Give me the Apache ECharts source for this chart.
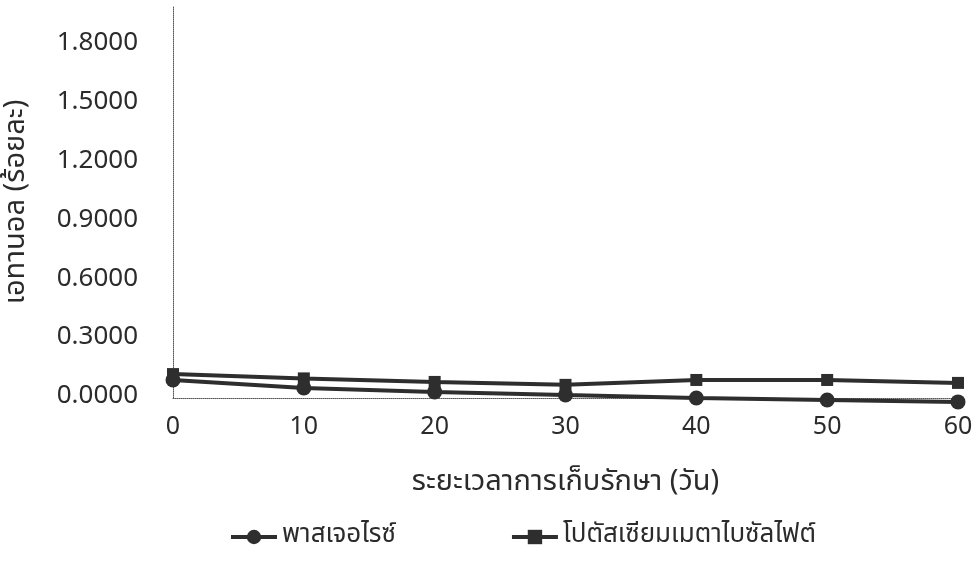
<!DOCTYPE html>
<html>
<head>
<meta charset="utf-8">
<script src="https://cdn.jsdelivr.net/npm/echarts@6/dist/echarts.min.js"></script>
<style>
  html, body { margin: 0; padding: 0; background: #fff; }
  #chart { width: 979px; height: 585px; }
</style>
</head>
<body>
<div id="chart"></div>
<script>
// Storage time (days)
const days = [0, 10, 20, 30, 40, 50, 60];
// Ethanol content (%) per treatment
const pasteurized = [0.092, 0.051, 0.031, 0.015, 0.000, -0.010, -0.020];
const metabisulfite = [0.122, 0.100, 0.082, 0.067, 0.092, 0.092, 0.077];
const seriesNames = ['พาสเจอไรซ์', 'โปตัสเซียมเมตาไบซัลไฟต์'];
const yTicks = [0, 0.3, 0.6, 0.9, 1.2, 1.5, 1.8];

const FONT = "Tahoma, 'Noto Sans Thai', 'Leelawadee UI', 'Noto Sans', 'DejaVu Sans', sans-serif";
const ink = '#2b2b2b';

const pairs = vals => days.map((d, i) => [d, vals[i]]);

const chart = echarts.init(document.getElementById('chart'), null, { renderer: 'canvas' });
chart.setOption({
  backgroundColor: '#ffffff',
  animation: false,
  textStyle: { fontFamily: FONT },
  grid: { left: 173, right: 21, top: 6, bottom: 187, outerBoundsMode: 'none', containLabel: false },
  legend: {
    bottom: 30,
    left: 224,
    itemWidth: 46,
    itemHeight: 18,
    itemGap: 114,
    lineStyle: { width: 4 },
    textStyle: { fontSize: 26, color: ink, fontFamily: FONT },
    data: seriesNames
  },
  xAxis: {
    type: 'value',
    min: 0,
    max: 60,
    interval: 10,
    name: 'ระยะเวลาการเก็บรักษา (วัน)',
    nameLocation: 'middle',
    nameGap: 72,
    nameTextStyle: { fontSize: 29, color: ink, fontFamily: FONT },
    axisLine: { show: true, lineStyle: { color: '#555', width: 1, type: 'dotted' } },
    axisTick: { show: false },
    splitLine: { show: false },
    axisLabel: { fontSize: 25, color: ink, margin: 18, fontFamily: FONT }
  },
  yAxis: {
    type: 'value',
    min: 0,
    max: 2.0,
    interval: 0.3,
    name: 'เอทานอล (ร้อยละ)',
    nameLocation: 'middle',
    nameRotate: 90,
    nameGap: 140,
    nameTextStyle: { fontSize: 29, color: ink, fontFamily: FONT },
    axisLine: { show: true, lineStyle: { color: '#555', width: 1, type: 'dotted' } },
    axisTick: { show: false },
    splitLine: { show: false },
    axisLabel: {
      fontSize: 26,
      color: ink,
      margin: 35,
      fontFamily: FONT,
      showMaxLabel: false,
      formatter: v => (yTicks.some(t => Math.abs(t - v) < 1e-9) ? v.toFixed(4) : '')
    }
  },
  series: [
    {
      name: seriesNames[0],
      type: 'line',
      data: pairs(pasteurized),
      clip: false,
      symbol: 'circle',
      symbolSize: 15,
      z: 3,
      lineStyle: { color: '#2e2e2e', width: 4 },
      itemStyle: { color: '#2e2e2e' }
    },
    {
      name: seriesNames[1],
      type: 'line',
      data: pairs(metabisulfite),
      clip: false,
      symbol: 'rect',
      symbolSize: 12,
      z: 2,
      lineStyle: { color: '#2e2e2e', width: 4 },
      itemStyle: { color: '#2e2e2e' }
    }
  ]
});
</script>
</body>
</html>
